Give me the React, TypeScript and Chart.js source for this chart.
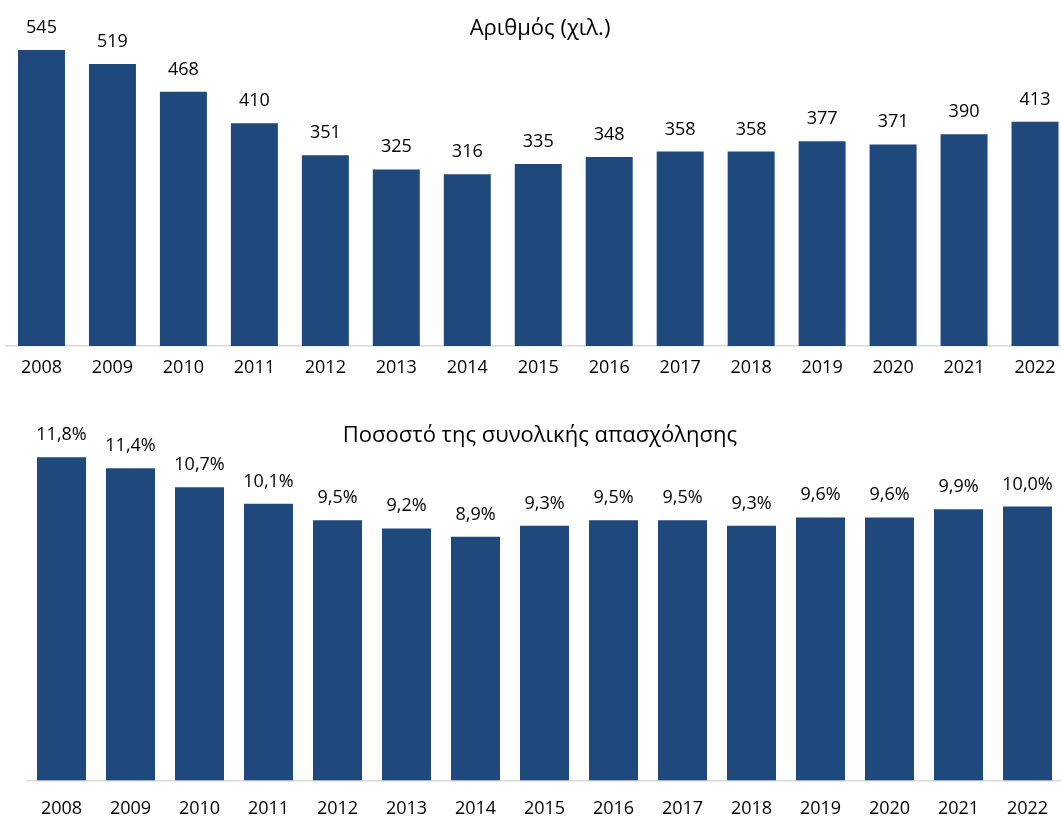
import React, { useEffect, useRef } from "react";
import { Chart, registerables } from "chart.js";

Chart.register(...registerables);

const years = ["2008", "2009", "2010", "2011", "2012", "2013", "2014", "2015", "2016", "2017", "2018", "2019", "2020", "2021", "2022"];
const counts = [545, 519, 468, 410, 351, 325, 316, 335, 348, 358, 358, 377, 371, 390, 413];
const shares = [11.8, 11.4, 10.7, 10.1, 9.5, 9.2, 8.9, 9.3, 9.5, 9.5, 9.3, 9.6, 9.6, 9.9, 10.0];
const titleTop = "Αριθμός (χιλ.)";
const titleBottom = "Ποσοστό της συνολικής απασχόλησης";

const FONT = "'Open Sans', 'Noto Sans', sans-serif";
const BAR = "#1F497D";

function makePlugin(title: string, titleY: number, fmt: (v: number) => string) {
  return {
    id: "valueLabels",
    afterDatasetsDraw(chart: any) {
      const ctx = chart.ctx;
      const meta = chart.getDatasetMeta(0);
      const data = chart.data.datasets[0].data as number[];
      ctx.save();
      ctx.fillStyle = "#000";
      ctx.textAlign = "center";
      ctx.textBaseline = "alphabetic";
      ctx.font = `18px ${FONT}`;
      meta.data.forEach((bar: any, i: number) => {
        ctx.fillText(fmt(data[i]), bar.x, bar.y - 17);
      });
      ctx.font = `22px ${FONT}`;
      ctx.fillText(title, 540, titleY);
      ctx.restore();
    },
  };
}

function BarChart(props: {
  labels: string[];
  values: number[];
  max: number;
  padTop: number;
  padLeft: number;
  padRight: number;
  axisHeight: number;
  tickPad: number;
  barPct: number;
  title: string;
  titleY: number;
  fmt: (v: number) => string;
}) {
  const ref = useRef<HTMLCanvasElement | null>(null);
  useEffect(() => {
    if (!ref.current) return;
    const chart = new Chart(ref.current, {
      type: "bar",
      data: {
        labels: props.labels,
        datasets: [
          {
            data: props.values,
            backgroundColor: BAR,
            borderWidth: 0,
            barPercentage: props.barPct,
            categoryPercentage: 1,
          },
        ],
      },
      options: {
        animation: false,
        responsive: true,
        maintainAspectRatio: false,
        layout: { padding: { top: props.padTop, left: props.padLeft, right: props.padRight, bottom: 0 } },
        plugins: { legend: { display: false }, tooltip: { enabled: false }, title: { display: false } },
        scales: {
          x: {
            grid: { display: false, drawTicks: false },
            border: { display: true, color: "#D9D9D9", width: 1.5 },
            ticks: { color: "#000", font: { family: FONT, size: 18 }, padding: props.tickPad, maxRotation: 0, autoSkip: false },
            afterFit: (s: any) => {
              s.height = props.axisHeight;
            },
          },
          y: { display: false, min: 0, max: props.max },
        },
      },
      plugins: [makePlugin(props.title, props.titleY, props.fmt)],
    });
    return () => chart.destroy();
  }, []);
  return <canvas ref={ref} />;
}

export default function App() {
  return (
    <div style={{ position: "fixed", left: 0, top: 0, width: 1061, height: 816, overflow: "hidden", background: "#fff" }}>
      <div style={{ position: "absolute", left: 0, top: 0, width: 1080, height: 390 }}>
        <BarChart
          labels={years}
          values={counts}
          max={600}
          padTop={20.1}
          padLeft={6}
          padRight={9.5}
          axisHeight={44}
          tickPad={11}
          barPct={0.662}
          title={titleTop}
          titleY={35}
          fmt={(v) => String(v)}
        />
      </div>
      <div style={{ position: "absolute", left: 0, top: 390, width: 1080, height: 426 }}>
        <BarChart
          labels={years}
          values={shares}
          max={13}
          padTop={34.3}
          padLeft={27}
          padRight={18}
          axisHeight={35.5}
          tickPad={18}
          barPct={0.71}
          title={titleBottom}
          titleY={52}
          fmt={(v) => v.toFixed(1).replace(".", ",") + "%"}
        />
      </div>
    </div>
  );
}
